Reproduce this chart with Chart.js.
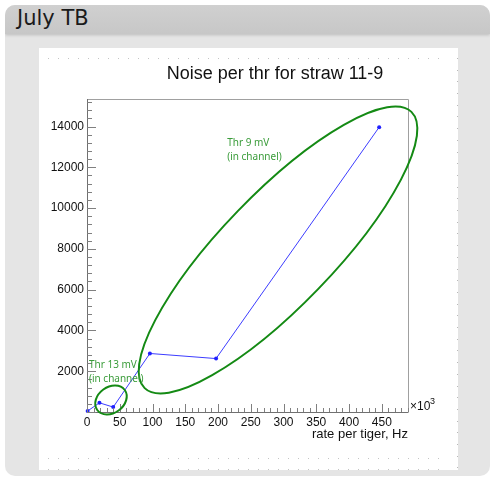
<!DOCTYPE html>
<html><head><meta charset="utf-8">
<script src="https://cdn.jsdelivr.net/npm/chart.js@4/dist/chart.umd.min.js"></script>
<style>
html,body{margin:0;padding:0;background:#fff;width:492px;height:478px;overflow:hidden;}
#box{position:absolute;left:5px;top:5px;width:485px;height:471px;border-radius:10px;background:#e5e5e5;overflow:hidden;}
#hdr{position:absolute;left:0;top:0;width:100%;height:29px;background:linear-gradient(#d0d0d0,#c7c7c7);box-shadow:0 1px 3px rgba(0,0,0,0.18);}
#hdr span{position:absolute;left:12px;top:1px;font-family:"DejaVu Sans";font-size:21px;color:#1a1a1a;}
#white{position:absolute;left:39px;top:48px;width:419px;height:422px;background:#fff;}
.dotrow{position:absolute;height:1px;background:repeating-linear-gradient(to right,#c4c4c4 0 1px,transparent 1px 10px);}
.dotcol{position:absolute;width:1px;background:repeating-linear-gradient(to bottom,#b8b8b8 0 1px,transparent 1px 11.7px);}
#c{position:absolute;left:0;top:0;}
</style></head>
<body>
<div id="box"><div id="hdr"><span>July TB</span></div></div>
<div id="white"></div>
<div class="dotrow" style="left:48px;top:58px;width:400px;"></div>
<div class="dotrow" style="left:48px;top:458px;width:400px;"></div>
<div class="dotrow" style="left:48px;top:469px;width:400px;"></div>
<div class="dotcol" style="left:457px;top:58px;height:410px;"></div>
<canvas id="c" width="492" height="478"></canvas>
<script>
// ---- data ----
const rateK = [1, 19, 40, 96, 197, 446];          // rate per tiger, x10^3 Hz
const noise = [50, 450, 240, 2870, 2620, 13970];  // noise counts
const xTickValues = [0, 50, 100, 150, 200, 250, 300, 350, 400, 450];
const yTickValues = [2000, 4000, 6000, 8000, 10000, 12000, 14000];
const chartTitle = "Noise per thr for straw 11-9";
const xAxisTitle = "rate per tiger, Hz";
const annLabels = [
  {x: 3, y: 2280, lines: ["Thr 13 mV", "(in channel)"]},
  {x: 214, y: 13200, lines: ["Thr 9 mV", "(in channel)"]}
];
const annEllipses = [
  {x: 36.6, y: 588, a: 17, b: 13, angle: 36},
  {x: 291.6, y: 7945, a: 192, b: 56, angle: 46}
];

const X_MIN = 0, X_MAX = 490, Y_MIN = 0, Y_MAX = 15350;

const rootPlugin = {
  id: 'rootStyle',
  afterDraw(chart) {
    const ctx = chart.ctx, xs = chart.scales.x, ys = chart.scales.y, a = chart.chartArea;
    ctx.save();
    // frame
    ctx.lineWidth = 1;
    ctx.strokeStyle = '#a0a0a0';
    ctx.beginPath();
    ctx.moveTo(a.left, a.top + 0.5); ctx.lineTo(a.right + 0.5, a.top + 0.5); ctx.lineTo(a.right + 0.5, a.bottom);
    ctx.stroke();
    ctx.strokeStyle = '#707070';
    ctx.beginPath();
    ctx.moveTo(a.left + 0.5, a.top); ctx.lineTo(a.left + 0.5, a.bottom + 0.5); ctx.lineTo(a.right + 0.5, a.bottom + 0.5);
    ctx.stroke();
    // ticks (inward)
    ctx.strokeStyle = '#808080';
    ctx.beginPath();
    for (let v = X_MIN; v <= X_MAX; v += 10) {
      const px = Math.round(xs.getPixelForValue(v)) + 0.5;
      const len = (v % 50 === 0) ? 8 : 4;
      ctx.moveTo(px, a.bottom); ctx.lineTo(px, a.bottom - len);
    }
    for (let v = Y_MIN; v <= Y_MAX; v += 400) {
      const py = Math.round(ys.getPixelForValue(v)) + 0.5;
      const len = (v % 2000 === 0) ? 9 : 5;
      ctx.moveTo(a.left, py); ctx.lineTo(a.left + len, py);
    }
    ctx.stroke();
    // ellipses
    ctx.strokeStyle = '#148a14';
    ctx.lineWidth = 2;
    annEllipses.forEach(e => {
      ctx.beginPath();
      ctx.ellipse(xs.getPixelForValue(e.x), ys.getPixelForValue(e.y), e.a, e.b, -e.angle * Math.PI / 180, 0, Math.PI * 2);
      ctx.stroke();
    });
    // labels
    ctx.fillStyle = '#3a9c3a';
    ctx.font = '10px "Noto Sans"';
    ctx.textAlign = 'left'; ctx.textBaseline = 'middle';
    annLabels.forEach(l => {
      const px = xs.getPixelForValue(l.x), py = ys.getPixelForValue(l.y);
      l.lines.forEach((t, i) => ctx.fillText(t, px, py + i * 14));
    });
    // title
    ctx.fillStyle = '#111';
    ctx.font = '18px "Liberation Sans"';
    ctx.textAlign = 'center';
    ctx.fillText(chartTitle, 275, 74);
    // axis title
    ctx.font = '13px "Liberation Sans"';
    ctx.textAlign = 'right';
    ctx.fillText(xAxisTitle, a.right, 434);
    // x10^3
    ctx.font = '12px "Liberation Sans"';
    ctx.textAlign = 'left';
    ctx.fillText('\u00d710', a.right + 2, a.bottom - 5);
    ctx.font = '9px "Liberation Sans"';
    ctx.fillText('3', a.right + 22, a.bottom - 10);
    ctx.restore();
  }
};

new Chart(document.getElementById('c'), {
  type: 'scatter',
  data: {
    datasets: [{
      data: rateK.map((x, i) => ({x, y: noise[i]})),
      showLine: true,
      borderColor: '#3c3cff',
      backgroundColor: '#2020ff',
      borderWidth: 1,
      pointRadius: 2,
      pointBorderWidth: 0,
      tension: 0,
      clip: false
    }]
  },
  options: {
    responsive: false,
    animation: false,
    devicePixelRatio: 1,
    layout: {padding: {left: 0, top: 99, right: 84, bottom: 0}},
    plugins: {legend: {display: false}, title: {display: false}, tooltip: {enabled: false}},
    scales: {
      x: {
        type: 'linear', min: X_MIN, max: X_MAX,
        afterFit(s) { s.height = 66; },
        afterBuildTicks(s) { s.ticks = xTickValues.map(v => ({value: v})); },
        grid: {display: false, drawTicks: false},
        border: {display: false},
        ticks: {font: {family: 'Liberation Sans', size: 12}, color: '#111', padding: 3, maxRotation: 0, autoSkip: false, callback: v => String(v)}
      },
      y: {
        type: 'linear', min: Y_MIN, max: Y_MAX,
        afterFit(s) { s.width = 87; },
        afterBuildTicks(s) { s.ticks = yTickValues.map(v => ({value: v})); },
        grid: {display: false, drawTicks: false},
        border: {display: false},
        ticks: {font: {family: 'Liberation Sans', size: 12}, color: '#111', padding: 3, autoSkip: false, callback: v => String(v)}
      }
    }
  },
  plugins: [rootPlugin]
});
</script>
</body></html>
